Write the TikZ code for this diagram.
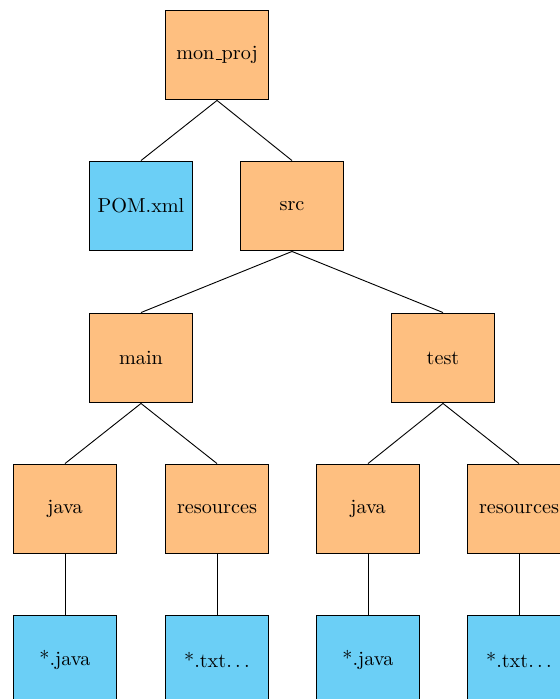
\documentclass[tikz,border=0pt]{standalone}
\newcommand{\lowbar}{\leavevmode\kern.06em\vbox{\hrule width.3em}}
\begin{document}
\begin{tikzpicture}[x=0.495pt,y=-0.495pt,
  box/.style={draw=black,line width=0.5pt,minimum width=51pt,minimum height=44.5pt,inner sep=0pt,font=\normalsize},
  dir/.style={box,fill=dirorange},
  file/.style={box,fill=fileblue},
  link/.style={line width=0.45pt}]
\definecolor{dirorange}{RGB}{254,191,128}
\definecolor{fileblue}{RGB}{107,207,246}
\useasboundingbox (0,0) rectangle (560,699);
% project tree
\node[dir]  (proj)  at (217,55)  {mon\lowbar proj};
\node[file] (pom)   at (141,206) {POM.xml};
\node[dir]  (src)   at (292,206) {src};
\node[dir]  (main)  at (141,358) {main};
\node[dir]  (test)  at (443,358) {test};
\node[dir]  (mjava) at (65,509)  {java};
\node[dir]  (mres)  at (217,509) {resources};
\node[dir]  (tjava) at (368,509) {java};
\node[dir]  (tres)  at (519,509) {resources};
\node[file] (mjf)   at (65,660)  {*.java};
\node[file] (mrf)   at (217,660) {*.txt$\ldots$};
\node[file] (tjf)   at (368,660) {*.java};
\node[file] (trf)   at (519,660) {*.txt$\ldots$};
% branches
\draw[link] (proj.south) -- (pom.north);
\draw[link] (proj.south) -- (src.north);
\draw[link] (src.south) -- (main.north);
\draw[link] (src.south) -- (test.north);
\draw[link] (main.south) -- (mjava.north);
\draw[link] (main.south) -- (mres.north);
\draw[link] (test.south) -- (tjava.north);
\draw[link] (test.south) -- (tres.north);
\draw[link] (mjava.south) -- (mjf.north);
\draw[link] (mres.south) -- (mrf.north);
\draw[link] (tjava.south) -- (tjf.north);
\draw[link] (tres.south) -- (trf.north);
\end{tikzpicture}
\end{document}
